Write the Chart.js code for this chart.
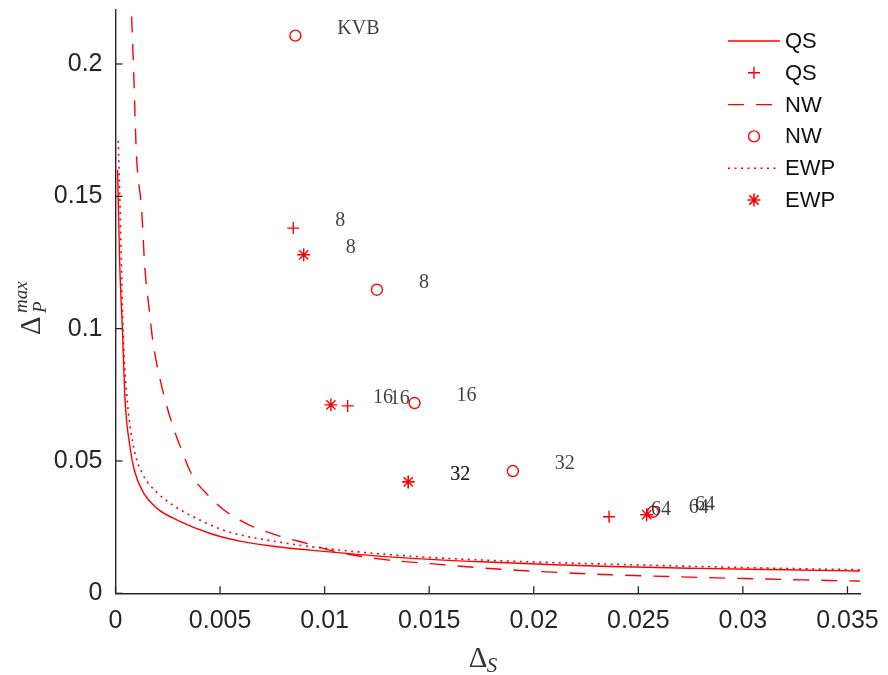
<!DOCTYPE html>
<html>
<head>
<meta charset="utf-8">
<script src="https://cdn.jsdelivr.net/npm/chart.js@4.4.0/dist/chart.umd.min.js"></script>
<style>
html, body { margin: 0; padding: 0; background: #fff; }
#wrap { width: 888px; height: 675px; }
</style>
</head>
<body>
<div id="wrap"><canvas id="chart"></canvas></div>
<script>
// axis ticks
const xTicks = [0, 0.005, 0.01, 0.015, 0.02, 0.025, 0.03, 0.035];
const xTickLabels = ['0', '0.005', '0.01', '0.015', '0.02', '0.025', '0.03', '0.035'];
const yTicks = [0, 0.05, 0.1, 0.15, 0.2];
const yTickLabels = ['0', '0.05', '0.1', '0.15', '0.2'];

// curves
const qsCurveX = [0.0001, 0.0002, 0.00034, 0.00045, 0.0007, 0.0009, 0.0013, 0.002, 0.003, 0.0045, 0.006, 0.0077, 0.0093, 0.0117, 0.014, 0.0175, 0.021, 0.0237, 0.028, 0.032, 0.0356];
const qsCurveY = [0.160, 0.125, 0.098, 0.074, 0.055, 0.0465, 0.0385, 0.032, 0.0275, 0.0227, 0.0196, 0.0176, 0.0163, 0.0146, 0.0133, 0.0119, 0.0108, 0.0101, 0.0094, 0.0089, 0.0084];

const nwCurveX = [0.00077, 0.00085, 0.001, 0.00125, 0.0014, 0.0016, 0.0018, 0.0021, 0.0026, 0.0031, 0.0037, 0.0045, 0.0053, 0.0064, 0.0077, 0.0093, 0.0104, 0.0128, 0.0152, 0.0175, 0.0192, 0.0237, 0.027, 0.031, 0.0356];
const nwCurveY = [0.218, 0.2015, 0.166, 0.145, 0.1234, 0.108, 0.0945, 0.082, 0.0667, 0.0554, 0.0441, 0.0365, 0.0308, 0.0258, 0.022, 0.0185, 0.016, 0.0128, 0.0111, 0.0096, 0.0087, 0.007, 0.0062, 0.0054, 0.0046];

const ewpCurveX = [0.00013, 0.00022, 0.00037, 0.00056, 0.0009, 0.0013, 0.002, 0.0028, 0.0037, 0.0053, 0.0077, 0.0109, 0.014, 0.0174, 0.021, 0.0237, 0.028, 0.032, 0.0356];
const ewpCurveY = [0.171, 0.145, 0.098, 0.073, 0.054, 0.045, 0.038, 0.033, 0.029, 0.0235, 0.0195, 0.0162, 0.0141, 0.0126, 0.0116, 0.011, 0.0101, 0.0094, 0.0089];

// estimated points with their labels
const qsPtsX = [0.0085, 0.0111, 0.0140, 0.0236];
const qsPtsY = [0.138, 0.0708, 0.0421, 0.0289];
const qsPtsLabels = ['8', '16', '32', '64'];

const nwPtsX = [0.0086, 0.0125, 0.0143, 0.0190, 0.0257];
const nwPtsY = [0.2107, 0.1147, 0.0719, 0.0462, 0.0308];
const nwPtsLabels = ['KVB', '8', '16', '32', '64'];

const ewpPtsX = [0.0090, 0.0103, 0.0140, 0.0254];
const ewpPtsY = [0.1279, 0.0712, 0.0421, 0.0297];
const ewpPtsLabels = ['8', '16', '32', '64'];

const legendNames = ['QS', 'QS', 'NW', 'NW', 'EWP', 'EWP'];

const RED = '#ff0000';
const zip = (xs, ys) => xs.map((x, i) => ({ x: x, y: ys[i] }));

function curve(xs, ys, dash, w) {
    return {
        data: zip(xs, ys),
        showLine: true,
        borderColor: RED,
        borderWidth: w,
        borderDash: dash,
        pointRadius: 0,
        cubicInterpolationMode: 'monotone',
        fill: false
    };
}

function marks(xs, ys, style, r) {
    return {
        data: zip(xs, ys),
        showLine: false,
        pointStyle: style,
        pointRadius: r,
        pointBorderWidth: 1.4,
        borderColor: RED,
        backgroundColor: 'rgba(0,0,0,0)'
    };
}

const datasets = [
    curve(qsCurveX, qsCurveY, [], 1.4),
    marks(qsPtsX, qsPtsY, 'cross', 6),
    curve(nwCurveX, nwCurveY, [16, 12], 1.4),
    marks(nwPtsX, nwPtsY, 'circle', 5.5),
    curve(ewpCurveX, ewpCurveY, [2, 4.5], 1.6),
    marks(ewpPtsX, ewpPtsY, 'star', 6.5)
];

const pointLabels = [
    { xs: qsPtsX, ys: qsPtsY, labels: qsPtsLabels },
    { xs: nwPtsX, ys: nwPtsY, labels: nwPtsLabels },
    { xs: ewpPtsX, ys: ewpPtsY, labels: ewpPtsLabels }
];

// ticks inside, text labels, legend and axis titles
const overlay = {
    id: 'overlay',
    afterDraw(chart) {
        const ctx = chart.ctx;
        const xs = chart.scales.x, ys = chart.scales.y;
        const area = chart.chartArea;

        ctx.save();
        ctx.strokeStyle = '#262626';
        ctx.lineWidth = 1.3;
        xTicks.forEach(v => {
            const px = xs.getPixelForValue(v);
            ctx.beginPath();
            ctx.moveTo(px, area.bottom);
            ctx.lineTo(px, area.bottom - 7);
            ctx.stroke();
        });
        yTicks.forEach(v => {
            const py = ys.getPixelForValue(v);
            ctx.beginPath();
            ctx.moveTo(area.left, py);
            ctx.lineTo(area.left + 7, py);
            ctx.stroke();
        });

        // point labels
        ctx.font = '20px "Liberation Serif", "DejaVu Serif", serif';
        ctx.fillStyle = 'rgba(30,30,30,0.85)';
        ctx.textAlign = 'left';
        ctx.textBaseline = 'middle';
        pointLabels.forEach(g => {
            g.labels.forEach((t, i) => {
                const px = xs.getPixelForValue(g.xs[i]);
                const py = ys.getPixelForValue(g.ys[i]);
                ctx.fillText(t, px + 42, py - 7);
            });
        });

        // legend
        const lx0 = 728, lx1 = 780, tx = 785;
        ctx.font = '22px "Liberation Sans", Arial, sans-serif';
        ctx.textBaseline = 'middle';
        datasets.forEach((ds, i) => {
            const y = 41 + i * 31.8;
            ctx.strokeStyle = RED;
            ctx.fillStyle = 'rgba(0,0,0,0)';
            if (ds.showLine) {
                ctx.lineWidth = ds.borderWidth;
                ctx.setLineDash(ds.borderDash);
                ctx.beginPath();
                ctx.moveTo(lx0, y);
                ctx.lineTo(lx1, y);
                ctx.stroke();
                ctx.setLineDash([]);
            } else {
                Chart.helpers.drawPoint(ctx, {
                    pointStyle: ds.pointStyle,
                    radius: ds.pointRadius,
                    rotation: 0,
                    borderWidth: ds.pointBorderWidth
                }, (lx0 + lx1) / 2, y);
            }
            ctx.fillStyle = '#111';
            ctx.fillText(legendNames[i], tx, y + 1);
        });

        // x title: Delta_S
        ctx.fillStyle = '#333';
        ctx.textBaseline = 'alphabetic';
        ctx.font = '29px "Liberation Serif", serif';
        const cx = (area.left + area.right) / 2;
        ctx.fillText('\u0394', cx - 19, 667);
        ctx.font = 'italic 21px "Liberation Serif", serif';
        ctx.fillText('S', cx - 1, 672);

        // y title: Delta_P^max (rotated)
        ctx.translate(40, 335);
        ctx.rotate(-Math.PI / 2);
        ctx.font = '29px "Liberation Serif", serif';
        ctx.fillText('\u0394', 0, 0);
        ctx.font = 'italic 19px "Liberation Serif", serif';
        ctx.fillText('P', 22, 6);
        ctx.fillText('max', 22, -13);
        ctx.restore();
    }
};

new Chart(document.getElementById('chart'), {
    type: 'scatter',
    data: { datasets: datasets },
    options: {
        responsive: true,
        maintainAspectRatio: false,
        animation: false,
        layout: { padding: { left: 0, top: 10, right: 28, bottom: 0 } },
        plugins: { legend: { display: false }, tooltip: { enabled: false } },
        scales: {
            x: {
                type: 'linear',
                min: 0,
                max: 0.0356,
                afterBuildTicks: s => { s.ticks = xTicks.map(v => ({ value: v })); },
                afterFit: s => { s.height = 81.7; s.paddingLeft = 0; s.paddingRight = 0; },
                grid: { display: true, drawOnChartArea: false, drawTicks: false },
                border: { display: true, color: '#262626', width: 1.4 },
                ticks: {
                    padding: 13,
                    color: '#262626',
                    maxRotation: 0,
                    font: { family: '"Liberation Sans", Arial, sans-serif', size: 25 },
                    callback: (v, i) => xTickLabels[i]
                }
            },
            y: {
                type: 'linear',
                min: 0,
                max: 0.2204,
                afterBuildTicks: s => { s.ticks = yTicks.map(v => ({ value: v })); },
                afterFit: s => { s.width = 115.5; s.paddingTop = 0; s.paddingBottom = 0; },
                grid: { display: true, drawOnChartArea: false, drawTicks: false },
                border: { display: true, color: '#262626', width: 1.4 },
                ticks: {
                    padding: 13,
                    color: '#262626',
                    font: { family: '"Liberation Sans", Arial, sans-serif', size: 25 },
                    callback: (v, i) => yTickLabels[i]
                }
            }
        }
    },
    plugins: [overlay]
});
</script>
</body>
</html>
